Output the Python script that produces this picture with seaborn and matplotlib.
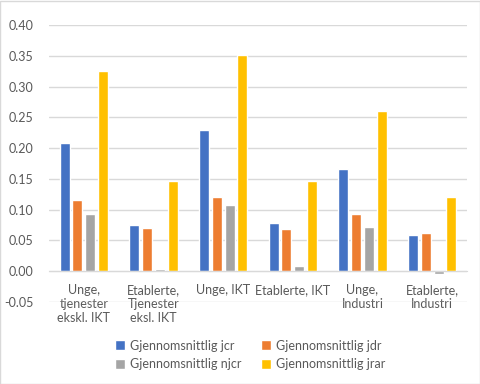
import matplotlib
matplotlib.use("Agg")
import matplotlib.pyplot as plt
import seaborn as sns
import pandas as pd
from matplotlib.patches import Rectangle

categories = ["Unge,\ntjenester\nekskl. IKT", "Etablerte,\nTjenester\neksl. IKT",
              "Unge, IKT", "Etablerte, IKT", "Unge,\nIndustri", "Etablerte,\nIndustri"]
series = ["Gjennomsnittlig jcr", "Gjennomsnittlig jdr",
          "Gjennomsnittlig njcr", "Gjennomsnittlig jrar"]
jcr = [0.208, 0.075, 0.229, 0.078, 0.166, 0.059]
jdr = [0.115, 0.070, 0.120, 0.068, 0.093, 0.062]
njcr = [0.093, 0.004, 0.107, 0.008, 0.072, -0.004]
jrar = [0.325, 0.146, 0.351, 0.146, 0.260, 0.120]
colors = ["#4472C4", "#ED7D31", "#A5A5A5", "#FFC000"]

rows = []
for s, vals in zip(series, [jcr, jdr, njcr, jrar]):
    for c, v in zip(categories, vals):
        rows.append({"cat": c, "series": s, "value": v})
df = pd.DataFrame(rows)

sns.set_style("white")
plt.rcParams["font.family"] = ["Lato", "DejaVu Sans"]
txt = "#595959"

fig = plt.figure(figsize=(4.81, 3.84), dpi=100)
ax = fig.add_axes([49/481, 1-302/384, (467-49)/481, (302-25)/384])
sns.barplot(data=df, x="cat", y="value", hue="series", palette=colors,
            order=categories, hue_order=series, width=0.73, gap=0.21,
            saturation=1, ax=ax, errorbar=None)

ax.set_ylim(-0.05, 0.40)
ax.set_yticks([-0.05, 0, 0.05, 0.10, 0.15, 0.20, 0.25, 0.30, 0.35, 0.40])
ax.set_yticklabels([f"{v:.2f}" for v in ax.get_yticks()])
ax.yaxis.grid(True, color="#d9d9d9", linewidth=1)
ax.set_axisbelow(True)
for sp in ["left", "right", "top"]:
    ax.spines[sp].set_visible(False)
ax.spines["bottom"].set_position(("data", 0))
ax.spines["bottom"].set_color("#d9d9d9")
ax.tick_params(axis="both", length=0, colors=txt, labelsize=9)
ax.tick_params(axis="x", pad=9)
ax.tick_params(axis="y", pad=11)
for lbl in ax.get_xticklabels():
    lbl.set_linespacing(1.2)
ax.set_xlabel("")
ax.set_ylabel("")

h, l = ax.get_legend_handles_labels()
ax.get_legend().remove()
order = [0, 2, 1, 3]
fig.legend([h[i] for i in order], [l[i] for i in order], ncol=2,
           loc="center", bbox_to_anchor=(250/481, 1-355/384), frameon=False,
           fontsize=9, labelcolor=txt, handlelength=0.8, handleheight=0.8,
           handletextpad=0.4, columnspacing=1.6, labelspacing=0.55)

fig.add_artist(Rectangle((0.001, 0.001), 0.997, 0.997, transform=fig.transFigure,
                         fill=False, edgecolor="#d9d9d9", linewidth=1))
fig.savefig("out.png", dpi=100)
